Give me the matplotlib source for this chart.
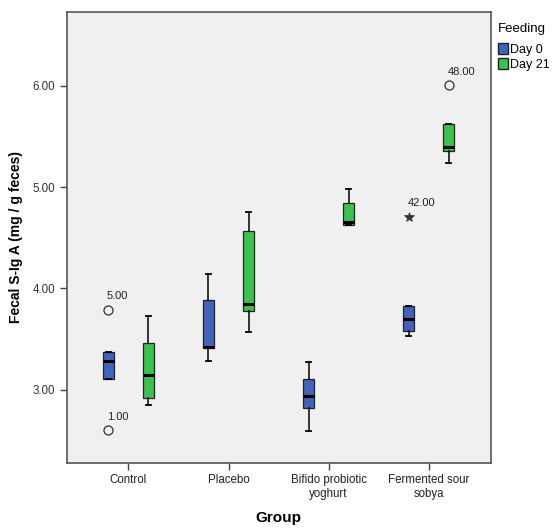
import matplotlib
matplotlib.use('Agg')
from matplotlib import pyplot as plt
from matplotlib.patches import Patch
import numpy as np

plt.rcParams['font.family'] = ['Liberation Sans', 'DejaVu Sans']

groups = ['Control', 'Placebo', 'Bifido probiotic\nyoghurt', 'Fermented sour\nsobya']
series = ['Day 0', 'Day 21']
colors = ['#4262bb', '#3cc24e']

# box stats: low whisker, q1, median, q3, high whisker
day0_lo = [3.10, 3.28, 2.59, 3.53]
day0_q1 = [3.10, 3.41, 2.82, 3.58]
day0_med = [3.28, 3.42, 2.94, 3.70]
day0_q3 = [3.37, 3.89, 3.10, 3.83]
day0_hi = [3.37, 4.14, 3.27, 3.83]

day21_lo = [2.85, 3.57, 4.63, 5.24]
day21_q1 = [2.92, 3.78, 4.63, 5.36]
day21_med = [3.14, 3.85, 4.66, 5.40]
day21_q3 = [3.46, 4.57, 4.84, 5.62]
day21_hi = [3.73, 4.75, 4.98, 5.62]

# outliers / extremes
out_group = [0, 0, 3, 3]
out_series = [0, 0, 0, 1]
out_value = [3.79, 2.60, 4.71, 6.01]
out_label = ['5.00', '1.00', '42.00', '48.00']
out_marker = ['o', 'o', '*', 'o']

fig = plt.figure(figsize=(5.54, 5.28), dpi=100)
ax = fig.add_axes([0.1204, 0.1237, 0.7659, 0.8536])
ax.set_facecolor('#f0f0f0')

offsets = [-0.2, 0.2]
all_stats = [
    (day0_lo, day0_q1, day0_med, day0_q3, day0_hi),
    (day21_lo, day21_q1, day21_med, day21_q3, day21_hi),
]
x = np.arange(len(groups))
for s, (lo, q1, med, q3, hi) in enumerate(all_stats):
    stats = []
    for i in range(len(groups)):
        stats.append({'whislo': lo[i], 'q1': q1[i], 'med': med[i],
                      'q3': q3[i], 'whishi': hi[i], 'fliers': []})
    ax.bxp(stats, positions=x + offsets[s], widths=0.11, capwidths=0.05,
           patch_artist=True, showfliers=False,
           boxprops=dict(facecolor=colors[s], edgecolor='#222222', linewidth=0.9),
           medianprops=dict(color='black', linewidth=2.2),
           whiskerprops=dict(color='black', linewidth=1.1),
           capprops=dict(color='black', linewidth=1.3))

for g, s, v, lab, m in zip(out_group, out_series, out_value, out_label, out_marker):
    xp = x[g] + offsets[s]
    if m == 'o':
        ax.plot(xp, v, 'o', mfc='none', mec='#333333', ms=6.5, mew=0.9)
    else:
        ax.plot(xp, v, '*', color='#333333', ms=7, mew=0.5)
    ax.annotate(lab, (xp, v), xytext=(-1, 6), textcoords='offset points',
                ha='left', va='bottom', fontsize=8, color='#222222')

ax.set_xlim(-0.615, 3.62)
ax.set_ylim(2.278, 6.731)
ax.set_xticks(x)
ax.set_xticklabels(groups, fontsize=8.3, color='#222222')
ax.set_yticks([3, 4, 5, 6])
ax.set_yticklabels(['3.00', '4.00', '5.00', '6.00'], fontsize=8.3, color='#333333')
ax.tick_params(direction='out', length=5, width=1, color='#444444')
for sp in ax.spines.values():
    sp.set_color('#555555')
    sp.set_linewidth(1.2)

ax.set_xlabel('Group', fontsize=11, fontweight='bold', labelpad=8)
ax.set_ylabel('Fecal S-Ig A (mg / g feces)', fontsize=10, fontweight='bold', labelpad=7)

handles = [Patch(facecolor=colors[i], edgecolor='#222222', label=series[i]) for i in range(2)]
leg = fig.legend(handles=handles, title='Feeding', loc='upper left',
                 bbox_to_anchor=(0.896, 0.959), frameon=False, fontsize=9,
                 title_fontsize=9.5, handlelength=0.8, handleheight=0.9,
                 handletextpad=0.15, labelspacing=0.2, borderpad=0.1,
                 borderaxespad=0.0)
leg._legend_box.align = 'left'
leg._legend_box.sep = 6

fig.savefig('out.png', dpi=100)
